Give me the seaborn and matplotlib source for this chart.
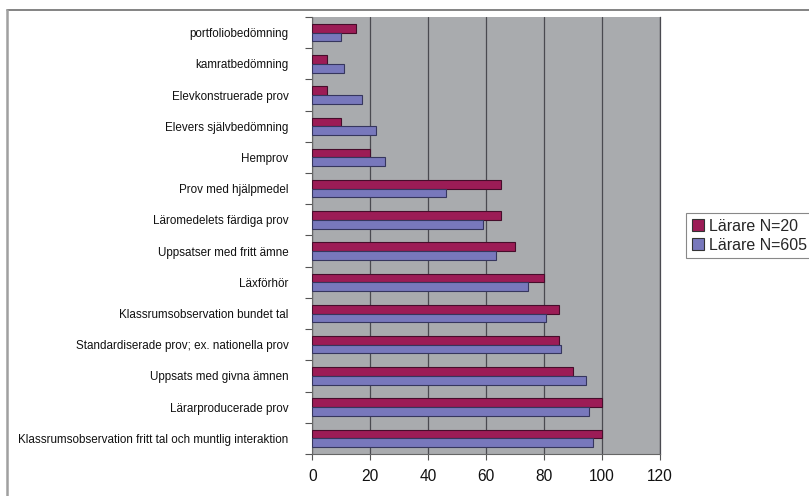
import matplotlib
matplotlib.use("Agg")
import matplotlib.pyplot as plt
from matplotlib.lines import Line2D
from matplotlib.ticker import FixedLocator
import pandas as pd
import seaborn as sns

# Assessment forms, listed top to bottom
categories = [
    "portfoliobedömning",
    "kamratbedömning",
    "Elevkonstruerade prov",
    "Elevers självbedömning",
    "Hemprov",
    "Prov med hjälpmedel",
    "Läromedelets färdiga prov",
    "Uppsatser med fritt ämne",
    "Läxförhör",
    "Klassrumsobservation bundet tal",
    "Standardiserade prov; ex. nationella prov",
    "Uppsats med givna ämnen",
    "Lärarproducerade prov",
    "Klassrumsobservation fritt tal och muntlig interaktion",
]
series_names = ["Lärare N=20", "Lärare N=605"]
values_n20 = [15, 5, 5, 10, 20, 65, 65, 70, 80, 85, 85, 90, 100, 100]
values_n605 = [10, 11, 17, 22, 25, 46, 59, 63.5, 74.5, 80.5, 86, 94.5, 95.5, 97]
x_ticks = [0, 20, 40, 60, 80, 100, 120]

df = pd.DataFrame({
    "kategori": categories * 2,
    "grupp": [series_names[0]] * len(categories) + [series_names[1]] * len(categories),
    "procent": values_n20 + values_n605,
})

sns.set_style("white")
plt.rcParams["font.family"] = ["Liberation Sans", "DejaVu Sans"]

fig = plt.figure(figsize=(8.09, 4.96), dpi=100)
W, H = 809, 496
ax = fig.add_axes([312.3 / W, 1 - 454 / H, (660 - 312.3) / W, (454 - 17) / H])

palette = {series_names[0]: "#9C1C56", series_names[1]: "#7878BC"}
sns.barplot(
    data=df, y="kategori", x="procent", hue="grupp",
    order=categories, hue_order=series_names, palette=palette,
    orient="h", width=0.56, gap=0, saturation=1, legend=False, ax=ax,
    edgecolor="#3a2a40", linewidth=0.8, zorder=3,
)
# darker outlines per series
for patch in ax.patches:
    fc = patch.get_facecolor()
    patch.set_edgecolor((fc[0] * 0.45, fc[1] * 0.45, fc[2] * 0.5, 1))

ax.set_facecolor("#A9ABAE")
ax.set_xlim(0, 120)
ax.set_ylim(len(categories) - 0.5, -0.5)
ax.xaxis.set_major_locator(FixedLocator(x_ticks))
ax.set_xticklabels([str(t) for t in x_ticks], fontsize=11.2)
ax.grid(axis="x", color="#4a4a50", linewidth=0.9, zorder=0)
ax.set_axisbelow(True)
ax.set_xlabel("")
ax.set_ylabel("")

# category labels at centres, tick marks at the boundaries
ax.tick_params(axis="y", which="major", length=0, pad=17, labelsize=8.4, labelcolor="#111111")
ax.yaxis.set_minor_locator(FixedLocator([i - 0.5 for i in range(len(categories) + 1)]))
ax.tick_params(axis="y", which="minor", length=5, width=0.8, color="#555555", left=True)
ax.tick_params(axis="x", which="major", length=4, width=0.8, color="#555555",
               bottom=True, pad=6.5, labelcolor="#111111")

ax.spines["top"].set_visible(False)
ax.spines["right"].set_color("#4a4a50")
ax.spines["right"].set_linewidth(0.9)
ax.spines["left"].set_color("#666666")
ax.spines["bottom"].set_color("#666666")
ax.spines["left"].set_linewidth(0.8)
ax.spines["bottom"].set_linewidth(0.8)

# outer chart frame (top and left edges)
fig.add_artist(Line2D([7 / W, 809 / W], [1 - 10 / H, 1 - 10 / H], color="#6e6e6e", linewidth=1.2))
fig.add_artist(Line2D([7.5 / W, 7.5 / W], [1 - 10 / H, 0], color="#a0a0a0", linewidth=1.8))

handles = [
    plt.Rectangle((0, 0), 1, 1, facecolor=palette[n], edgecolor="#333333", linewidth=0.8)
    for n in series_names
]
leg = fig.legend(
    handles, series_names, loc="upper left",
    bbox_to_anchor=(686 / W, 1 - 213 / H), fontsize=11.5,
    frameon=True, fancybox=False, edgecolor="#888888", framealpha=1,
    handlelength=0.75, handleheight=0.75, handletextpad=0.35,
    borderpad=0.35, labelspacing=0.25, borderaxespad=0,
)
leg.get_frame().set_linewidth(0.8)

fig.savefig("out.png", dpi=100)
